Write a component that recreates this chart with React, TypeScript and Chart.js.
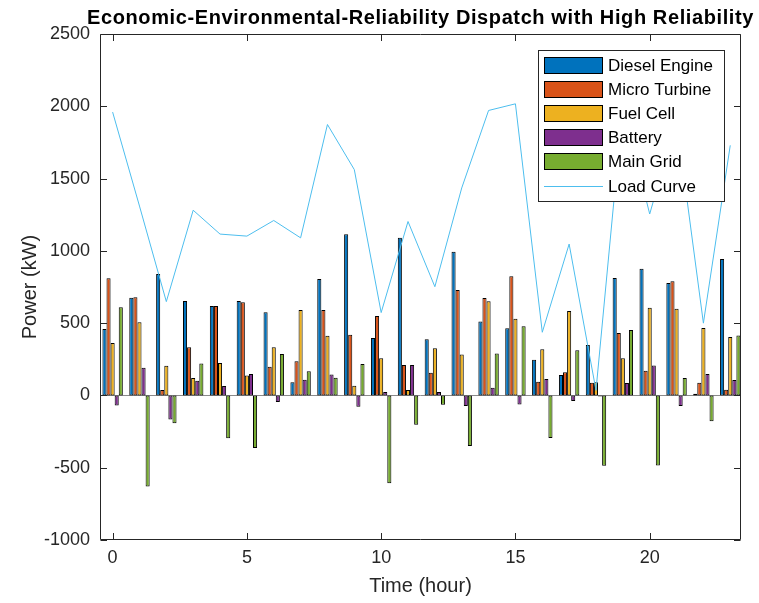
import React, { useEffect, useRef } from "react";
import { Chart, registerables } from "chart.js";

Chart.register(...registerables);

// ---- data ----
const hours = [0, 1, 2, 3, 4, 5, 6, 7, 8, 9, 10, 11, 12, 13, 14, 15, 16, 17, 18, 19, 20, 21, 22, 23];
const dieselEngine = [460, 676, 840, 653, 619, 653, 576, 92, 805, 1115, 398, 1090, 389, 994, 511, 465, 246, 141, 348, 812, 876, 778, 12, 943];
const microTurbine = [810, 679, 37, 334, 619, 644, 198, 237, 591, 419, 550, 210, 157, 729, 674, 824, 95, 161, 88, 431, 170, 789, 88, 39];
const fuelCell = [363, 506, 205, 120, 224, 138, 334, 591, 412, 67, 258, 37, 327, 283, 651, 531, 320, 584, 92, 258, 607, 600, 467, 405];
const battery = [-69, 191, -166, 101, 65, 148, -46, 108, 145, -78, 23, 210, 23, -73, 53, -62, 113, -39, -8, 86, 207, -73, 148, 106];
const mainGrid = [610, -630, -193, 221, -297, -363, 286, 168, 122, 217, -607, -202, -64, -349, 290, 479, -294, 313, -487, 453, -485, 120, -179, 414];
const loadCurve = [1960, 1310, 649, 1281, 1116, 1102, 1210, 1090, 1874, 1562, 573, 1203, 752, 1435, 1971, 2017, 437, 1047, 35, 2000, 1255, 1900, 500, 1730];

const barNames = ["Diesel Engine", "Micro Turbine", "Fuel Cell", "Battery", "Main Grid"];
const barSeries = [dieselEngine, microTurbine, fuelCell, battery, mainGrid];
const barColors = ["#0072BD", "#D95319", "#EDB120", "#7E2F8E", "#77AC30"];
const lineName = "Load Curve";
const lineColor = "#4DBEEE";

const xTicks = [0, 5, 10, 15, 20];
const yTicks = [-1000, -500, 0, 500, 1000, 1500, 2000, 2500];
const titleText = "Economic-Environmental-Reliability Dispatch with High Reliability";
const xLabel = "Time (hour)";
const yLabel = "Power (kW)";

const FONT = "'Liberation Sans', Arial, Helvetica, sans-serif";
const AXIS_COLOR = "#262626";

const matlabPlugin = {
  id: "matlabLook",
  beforeDatasetsDraw(chart: any) {
    const { ctx, chartArea: a, scales } = chart;
    const y0 = Math.round(scales.y.getPixelForValue(0)) + 0.5;
    ctx.save();
    ctx.strokeStyle = "#8a8a8a";
    ctx.lineWidth = 1;
    ctx.beginPath();
    ctx.moveTo(a.left, y0);
    ctx.lineTo(a.right, y0);
    ctx.stroke();
    ctx.restore();
  },
  afterDatasetsDraw(chart: any) {
    const { ctx, chartArea: a, scales } = chart;
    const L = Math.round(a.left) + 0.5;
    const R = Math.round(a.right) - 0.5;
    const T = Math.round(a.top) + 0.5;
    const B = Math.round(a.bottom) - 0.5;
    const tl = 6.5;
    ctx.save();
    ctx.strokeStyle = AXIS_COLOR;
    ctx.lineWidth = 1;
    ctx.beginPath();
    ctx.rect(L, T, R - L, B - T);
    for (const v of xTicks) {
      const px = Math.round(scales.x.getPixelForValue(v)) + 0.5;
      ctx.moveTo(px, B);
      ctx.lineTo(px, B - tl);
      ctx.moveTo(px, T);
      ctx.lineTo(px, T + tl);
    }
    for (const v of yTicks) {
      const py = Math.round(scales.y.getPixelForValue(v)) + 0.5;
      ctx.moveTo(L, py);
      ctx.lineTo(L + tl, py);
      ctx.moveTo(R, py);
      ctx.lineTo(R - tl, py);
    }
    ctx.stroke();
    ctx.restore();
  },
  afterDraw(chart: any) {
    const { ctx, chartArea: a } = chart;
    ctx.save();
    // title
    ctx.fillStyle = "#000";
    ctx.font = `bold 20px ${FONT}`;
    try { (ctx as any).letterSpacing = "0.6px"; } catch (e) {}
    ctx.textAlign = "center";
    ctx.textBaseline = "alphabetic";
    ctx.fillText(titleText, (a.left + a.right) / 2, 24);
    try { (ctx as any).letterSpacing = "0px"; } catch (e) {}

    // legend
    const bx = 538.5, by = 50.5, bw = 186, bh = 151;
    ctx.fillStyle = "#fff";
    ctx.fillRect(bx, by, bw, bh);
    ctx.strokeStyle = AXIS_COLOR;
    ctx.lineWidth = 1;
    ctx.strokeRect(bx, by, bw, bh);
    ctx.font = `17px ${FONT}`;
    ctx.textAlign = "left";
    ctx.textBaseline = "middle";
    const ds = chart.data.datasets;
    const order = [0, 1, 2, 3, 4, 5];
    order.forEach((i, row) => {
      const d = ds[i];
      const cy = 65 + row * 24.2;
      if (d.type === "line") {
        ctx.strokeStyle = d.borderColor;
        ctx.lineWidth = 1;
        ctx.beginPath();
        ctx.moveTo(544, Math.round(cy) + 0.5);
        ctx.lineTo(603, Math.round(cy) + 0.5);
        ctx.stroke();
      } else {
        ctx.fillStyle = d.backgroundColor;
        ctx.fillRect(544, Math.round(cy - 8.5), 59, 17);
        ctx.strokeStyle = "#000";
        ctx.lineWidth = 1;
        ctx.strokeRect(544.5, Math.round(cy - 8.5) + 0.5, 58, 16);
      }
      ctx.fillStyle = "#000";
      ctx.fillText(d.label, 608, cy + 1);
    });
    ctx.restore();
  },
};

export default function App() {
  const canvasRef = useRef<HTMLCanvasElement | null>(null);

  useEffect(() => {
    const canvas = canvasRef.current;
    if (!canvas) return;
    const datasets: any[] = barNames.map((name, i) => ({
      type: "bar",
      label: name,
      data: hours.map((h, j) => ({ x: h, y: barSeries[i][j] })),
      backgroundColor: barColors[i],
      borderColor: "#000",
      borderWidth: 1,
      borderSkipped: false,
      categoryPercentage: 0.76,
      barPercentage: 1.0,
      order: 1,
    }));
    datasets.push({
      type: "line",
      label: lineName,
      data: hours.map((h, j) => ({ x: h, y: loadCurve[j] })),
      borderColor: lineColor,
      backgroundColor: lineColor,
      borderWidth: 1,
      pointRadius: 0,
      tension: 0,
      fill: false,
      order: 0,
    });

    const chart = new Chart(canvas, {
      type: "bar",
      data: { datasets },
      plugins: [matlabPlugin],
      options: {
        responsive: false,
        animation: false,
        devicePixelRatio: 1,
        layout: { padding: { top: 34, right: 18, left: 0, bottom: 0 } },
        plugins: {
          legend: { display: false },
          title: { display: false },
          tooltip: { enabled: false },
        },
        scales: {
          x: {
            type: "linear",
            min: -0.47,
            max: 23.4,
            offset: false,
            grid: { display: false, drawTicks: false, offset: false },
            border: { display: false },
            afterBuildTicks: (s: any) => {
              s.ticks = xTicks.map((v) => ({ value: v }));
            },
            afterFit: (s: any) => {
              s.height = 63;
            },
            ticks: {
              color: AXIS_COLOR,
              font: { family: FONT, size: 18 },
              padding: 7,
              maxRotation: 0,
              autoSkip: false,
              callback: (v: any) => String(v),
            },
            title: {
              display: true,
              text: xLabel,
              color: AXIS_COLOR,
              font: { family: FONT, size: 20 },
              padding: { top: 0, bottom: 5 },
            },
          },
          y: {
            type: "linear",
            min: -1000,
            max: 2500,
            grid: { display: false, drawTicks: false },
            border: { display: false },
            afterBuildTicks: (s: any) => {
              s.ticks = yTicks.map((v) => ({ value: v }));
            },
            afterFit: (s: any) => {
              s.width = 100;
            },
            ticks: {
              color: AXIS_COLOR,
              font: { family: FONT, size: 18 },
              padding: 10,
              autoSkip: false,
              callback: (v: any) => String(v),
            },
            title: {
              display: true,
              text: yLabel,
              color: AXIS_COLOR,
              font: { family: FONT, size: 20 },
              padding: { top: 18, bottom: 0 },
            },
          },
        },
      } as any,
    });
    return () => chart.destroy();
  }, []);

  return (
    <div style={{ position: "absolute", left: 0, top: 0, width: 759, height: 603, background: "#fff" }}>
      <canvas ref={canvasRef} width={759} height={603} style={{ display: "block" }} />
    </div>
  );
}
